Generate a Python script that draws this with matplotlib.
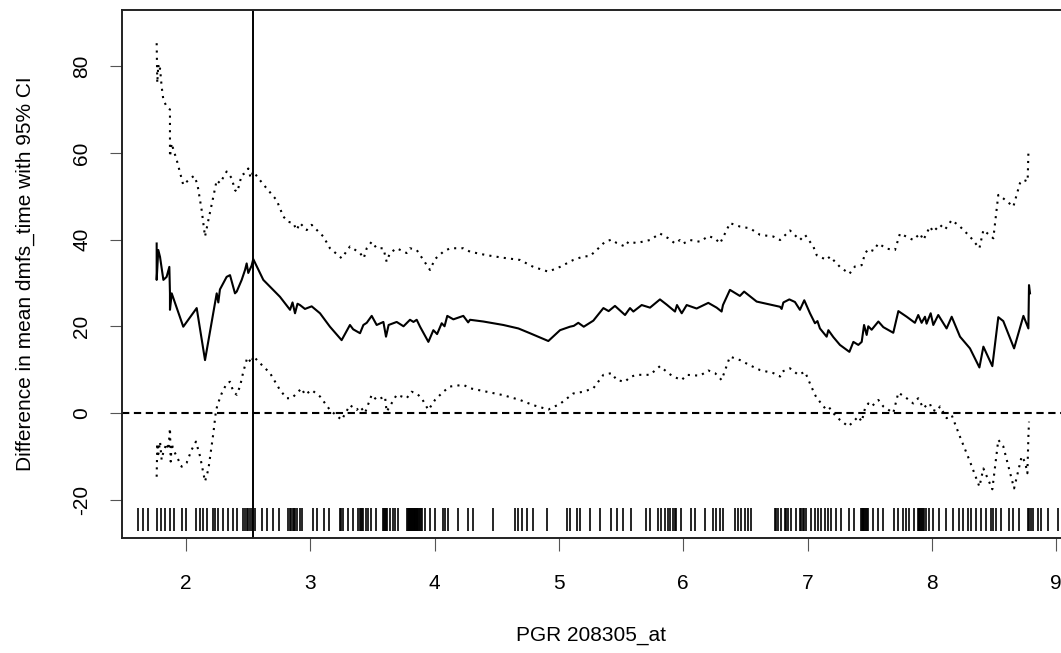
import matplotlib

matplotlib.use("Agg")
import matplotlib.pyplot as plt

# estimated difference (solid line)
est_x = [1.764, 1.764, 1.777, 1.791, 1.818, 1.844, 1.866, 1.871, 1.871, 1.885, 1.978,
         2.086, 2.153, 2.247, 2.260, 2.273, 2.327, 2.354, 2.394, 2.408, 2.448, 2.475,
         2.488, 2.501, 2.528, 2.541, 2.622, 2.756, 2.837, 2.857, 2.877, 2.897, 2.917,
         2.957, 3.011, 3.078, 3.158, 3.252, 3.319, 3.345, 3.400, 3.427, 3.454, 3.494,
         3.534, 3.588, 3.609, 3.630, 3.695, 3.750, 3.802, 3.830, 3.856, 3.883, 3.950,
         3.990, 4.020, 4.057, 4.080, 4.102, 4.151, 4.231, 4.270, 4.285, 4.392, 4.553,
         4.674, 4.767, 4.915, 5.009, 5.089, 5.120, 5.156, 5.200, 5.277, 5.358, 5.400,
         5.451, 5.532, 5.572, 5.599, 5.666, 5.733, 5.813, 5.867, 5.934, 5.950, 5.988,
         6.028, 6.108, 6.202, 6.269, 6.309, 6.320, 6.376, 6.456, 6.490, 6.591, 6.779,
         6.792, 6.806, 6.854, 6.899, 6.939, 6.974, 7.020, 7.060, 7.080, 7.100, 7.154,
         7.168, 7.208, 7.261, 7.337, 7.369, 7.409, 7.436, 7.455, 7.476, 7.489, 7.516,
         7.570, 7.610, 7.690, 7.731, 7.798, 7.864, 7.891, 7.918, 7.945, 7.958, 7.991,
         8.012, 8.052, 8.119, 8.160, 8.227, 8.307, 8.383, 8.415, 8.487, 8.535, 8.575,
         8.662, 8.737, 8.777, 8.782, 8.790]
est_y = [39.1, 30.7, 37.6, 36.0, 30.7, 31.4, 33.7, 27.6, 23.8, 27.6, 19.9,
         24.2, 12.2, 27.6, 25.5, 28.5, 31.4, 31.8, 27.6, 28.0, 30.7, 33.0,
         34.5, 32.3, 34.0, 35.5, 30.7, 26.8, 23.8, 25.5, 23.0, 25.2, 24.9,
         24.0, 24.6, 23.0, 19.9, 16.8, 20.3, 19.3, 18.4, 20.3, 20.8, 22.4,
         20.3, 21.0, 17.6, 20.3, 21.0, 20.0, 21.5, 21.0, 21.5, 19.9, 16.4,
         19.1, 18.2, 20.7, 20.0, 22.4, 21.6, 22.4, 20.9, 21.5, 21.1, 20.3,
         19.5, 18.4, 16.6, 19.1, 19.9, 20.1, 20.8, 19.9, 21.3, 24.2, 23.5,
         24.7, 22.6, 24.2, 23.4, 24.9, 24.3, 26.2, 25.0, 23.4, 24.9, 23.0,
         24.9, 24.1, 25.4, 24.3, 23.4, 24.9, 28.4, 27.0, 28.0, 25.7, 24.5,
         24.0, 25.5, 26.2, 25.6, 23.8, 26.0, 23.0, 20.7, 21.2, 19.5, 17.6,
         19.1, 17.5, 15.7, 14.1, 16.4, 15.7, 16.4, 20.3, 18.0, 20.0, 19.2,
         21.1, 19.8, 18.5, 23.5, 22.2, 20.8, 22.6, 20.8, 22.2, 20.6, 23.0,
         20.3, 22.6, 19.5, 22.2, 17.6, 14.9, 10.5, 15.3, 10.8, 22.1, 21.2,
         14.9, 22.4, 19.5, 29.5, 27.6]

# upper 95% limit (dotted)
up_x = [1.764, 1.769, 1.777, 1.785, 1.791, 1.804, 1.818, 1.844, 1.871, 1.871, 1.885,
        1.898, 1.925, 1.978, 2.019, 2.064, 2.091, 2.126, 2.153, 2.180, 2.220, 2.247,
        2.273, 2.327, 2.367, 2.394, 2.413, 2.448, 2.475, 2.501, 2.520, 2.541, 2.595,
        2.649, 2.729, 2.783, 2.823, 2.863, 2.890, 2.917, 2.971, 3.011, 3.105, 3.158,
        3.252, 3.319, 3.400, 3.430, 3.454, 3.494, 3.534, 3.588, 3.614, 3.641, 3.695,
        3.775, 3.802, 3.856, 3.910, 3.963, 4.003, 4.070, 4.124, 4.231, 4.285, 4.419,
        4.553, 4.687, 4.794, 4.915, 5.009, 5.116, 5.197, 5.250, 5.304, 5.371, 5.424,
        5.465, 5.532, 5.559, 5.625, 5.733, 5.813, 5.880, 5.934, 5.974, 6.001, 6.055,
        6.135, 6.202, 6.256, 6.296, 6.350, 6.376, 6.457, 6.537, 6.618, 6.725, 6.779,
        6.859, 6.939, 6.980, 7.047, 7.074, 7.154, 7.181, 7.261, 7.337, 7.382, 7.436,
        7.463, 7.489, 7.530, 7.570, 7.637, 7.704, 7.744, 7.851, 7.905, 7.932, 7.985,
        8.012, 8.066, 8.106, 8.160, 8.227, 8.307, 8.383, 8.415, 8.495, 8.535, 8.575,
        8.656, 8.709, 8.736, 8.771, 8.777]
up_y = [85.3, 76.1, 80.3, 78.9, 79.5, 75.3, 72.2, 70.7, 70.0, 59.1, 62.2,
        60.8, 58.4, 52.6, 53.7, 54.7, 52.9, 46.8, 40.7, 44.5, 49.9, 53.7,
        53.0, 55.7, 54.2, 51.4, 51.0, 54.9, 55.3, 56.4, 54.2, 55.7, 53.7,
        51.8, 49.1, 45.3, 44.1, 43.8, 42.2, 43.8, 42.2, 43.4, 40.7, 38.0,
        35.7, 38.4, 36.9, 35.7, 38.0, 39.5, 38.0, 38.0, 34.9, 36.9, 38.0,
        36.9, 38.0, 37.6, 35.3, 33.0, 35.5, 37.2, 38.0, 38.0, 37.2, 36.4,
        35.8, 35.3, 33.7, 32.6, 33.7, 35.3, 36.1, 36.2, 37.6, 39.5, 40.0,
        39.2, 38.4, 39.5, 39.2, 39.9, 41.4, 40.3, 39.1, 39.9, 39.1, 39.9,
        39.5, 40.8, 40.3, 39.1, 42.2, 43.8, 43.0, 42.6, 41.1, 40.7, 39.9,
        42.1, 39.9, 41.1, 38.4, 36.4, 35.3, 36.1, 33.7, 32.1, 33.8, 34.1,
        36.8, 37.8, 37.4, 39.1, 37.9, 37.6, 41.4, 39.9, 41.4, 39.9, 43.0,
        41.8, 43.4, 42.3, 44.5, 43.0, 40.7, 38.0, 42.2, 40.3, 50.3, 49.5,
        47.6, 53.0, 53.8, 53.4, 59.9]

# lower 95% limit (dotted)
lo_x = [1.764, 1.769, 1.777, 1.791, 1.804, 1.818, 1.844, 1.858, 1.871, 1.877, 1.885,
        1.898, 1.925, 1.965, 2.005, 2.045, 2.080, 2.113, 2.153, 2.180, 2.220, 2.239,
        2.252, 2.287, 2.327, 2.354, 2.381, 2.408, 2.435, 2.461, 2.493, 2.528, 2.541,
        2.595, 2.676, 2.756, 2.810, 2.850, 2.890, 2.930, 2.957, 3.011, 3.078, 3.158,
        3.252, 3.319, 3.373, 3.400, 3.440, 3.494, 3.534, 3.601, 3.614, 3.695, 3.775,
        3.815, 3.856, 3.896, 3.950, 4.003, 4.070, 4.124, 4.231, 4.285, 4.419, 4.553,
        4.687, 4.794, 4.915, 5.009, 5.116, 5.197, 5.277, 5.358, 5.424, 5.465, 5.532,
        5.572, 5.625, 5.733, 5.813, 5.880, 5.920, 5.988, 6.028, 6.135, 6.202, 6.256,
        6.309, 6.376, 6.457, 6.537, 6.618, 6.725, 6.779, 6.792, 6.859, 6.926, 6.980,
        7.020, 7.060, 7.074, 7.141, 7.168, 7.221, 7.261, 7.328, 7.369, 7.409, 7.436,
        7.463, 7.489, 7.516, 7.570, 7.610, 7.690, 7.731, 7.798, 7.851, 7.891, 7.932,
        7.958, 7.985, 7.999, 8.039, 8.066, 8.119, 8.160, 8.227, 8.307, 8.383, 8.415,
        8.487, 8.535, 8.575, 8.662, 8.723, 8.750, 8.769, 8.777, 8.782]
lo_y = [-14.7, -7.0, -9.5, -6.6, -10.8, -9.0, -7.0, -8.5, -3.5, -11.2, -7.0,
        -8.5, -10.0, -12.4, -11.5, -8.5, -6.6, -10.0, -15.8, -13.0, -4.7, 0.0,
        1.8, 4.5, 6.8, 7.2, 4.9, 4.2, 6.2, 9.5, 12.8, 11.5, 13.1,
        11.5, 9.2, 5.3, 3.4, 3.4, 4.5, 5.7, 4.2, 5.3, 3.8, 0.7,
        -1.6, 1.8, 0.7, 1.5, 0.0, 4.2, 3.0, 3.8, 0.3, 4.2, 3.4,
        4.9, 4.5, 3.4, 0.7, 3.0, 4.9, 6.1, 6.5, 5.7, 4.9, 4.1,
        3.0, 1.8, 0.8, 2.1, 4.5, 4.9, 5.7, 8.8, 9.2, 7.6, 7.2,
        8.3, 8.8, 8.8, 10.8, 9.2, 8.4, 7.6, 8.8, 8.6, 9.8, 9.2,
        7.6, 13.0, 12.2, 11.0, 9.9, 9.2, 8.4, 9.5, 10.3, 8.8, 9.5,
        6.8, 4.2, 3.5, 1.1, 1.5, -0.5, -1.6, -3.1, -2.0, -0.8, -2.0,
        1.1, 2.2, 1.5, 3.0, 1.5, 0.0, 4.7, 3.4, 2.2, 3.4, 1.1,
        1.8, 2.2, 0.8, 0.4, 1.5, -1.2, -0.5, -5.5, -11.2, -17.0, -12.8,
        -17.6, -6.2, -7.7, -17.4, -10.0, -11.3, -13.9, -5.5, -2.0]

# observed values (rug)
rug_x = [1.617, 1.657, 1.697, 1.764, 1.796, 1.831, 1.871, 1.906, 1.965, 1.997,
         2.080, 2.113, 2.139, 2.172, 2.215, 2.233, 2.260, 2.295, 2.341, 2.381,
         2.413, 2.461, 2.475, 2.488, 2.501, 2.515, 2.528, 2.555, 2.609, 2.649,
         2.703, 2.751, 2.818, 2.837, 2.848, 2.858, 2.868, 2.877, 2.896, 2.917,
         2.936, 3.019, 3.051, 3.110, 3.153, 3.239, 3.250, 3.260, 3.306, 3.346,
         3.386, 3.396, 3.405, 3.416, 3.427, 3.448, 3.467, 3.486, 3.529, 3.582,
         3.592, 3.601, 3.610, 3.620, 3.641, 3.663, 3.681, 3.708, 3.781, 3.786,
         3.791, 3.796, 3.801, 3.806, 3.811, 3.816, 3.821, 3.826, 3.831, 3.836,
         3.841, 3.846, 3.851, 3.856, 3.861, 3.866, 3.871, 3.881, 3.888, 3.896,
         3.923, 3.963, 4.003, 4.070, 4.084, 4.110, 4.191, 4.271, 4.312, 4.472,
         4.647, 4.674, 4.700, 4.741, 4.794, 4.902, 5.062, 5.089, 5.143, 5.170,
         5.250, 5.328, 5.422, 5.470, 5.516, 5.583, 5.703, 5.730, 5.797, 5.824,
         5.851, 5.878, 5.891, 5.918, 5.930, 5.945, 5.985, 6.065, 6.092, 6.173,
         6.240, 6.267, 6.293, 6.320, 6.414, 6.441, 6.468, 6.495, 6.521, 6.548,
         6.736, 6.750, 6.763, 6.789, 6.816, 6.830, 6.843, 6.870, 6.910, 6.937,
         6.950, 6.964, 6.975, 6.991, 7.031, 7.058, 7.085, 7.111, 7.138, 7.165,
         7.192, 7.232, 7.270, 7.337, 7.377, 7.430, 7.437, 7.444, 7.450, 7.457,
         7.464, 7.471, 7.478, 7.484, 7.524, 7.564, 7.605, 7.699, 7.725, 7.766,
         7.792, 7.819, 7.859, 7.886, 7.893, 7.900, 7.906, 7.913, 7.920, 7.927,
         7.940, 7.953, 7.980, 8.007, 8.061, 8.115, 8.168, 8.222, 8.248, 8.289,
         8.315, 8.356, 8.396, 8.436, 8.476, 8.490, 8.516, 8.557, 8.624, 8.651,
         8.704, 8.771, 8.785, 8.798, 8.811, 8.852, 8.879, 8.932, 9.012]

CUTOFF = 2.54
X_TICKS = [2, 3, 4, 5, 6, 7, 8, 9]
Y_TICKS = [-20, 0, 20, 40, 60, 80]

plt.rcParams["font.family"] = ["Liberation Sans", "DejaVu Sans"]
plt.rcParams["font.size"] = 15

fig = plt.figure(figsize=(10.61, 6.53), dpi=100)
ax = fig.add_axes([122 / 1061, 115 / 653, 1 - 122 / 1061, 528 / 653])

ax.plot(est_x, est_y, color="black", lw=1.5, solid_joinstyle="round")
ax.plot(up_x, up_y, color="black", lw=1.5, linestyle=(0, (1, 2.5)))
ax.plot(lo_x, lo_y, color="black", lw=1.5, linestyle=(0, (1, 2.5)))
ax.axhline(0, color="black", lw=1.5, linestyle=(0, (3.5, 2.2)))
ax.axvline(CUTOFF, color="black", lw=1.4)
ax.vlines(rug_x, -21.9, -27.2, color="black", lw=1.2)

ax.set_xlim(1.4851, 9.0394)
ax.set_ylim(-28.84, 92.96)
ax.set_xticks(X_TICKS)
ax.set_yticks(Y_TICKS)
ax.set_yticklabels([str(v) for v in Y_TICKS], rotation=90, va="center")
ax.tick_params(axis="both", length=9, width=0.8, color="#555555", labelsize=15)
ax.tick_params(axis="x", pad=17)
ax.tick_params(axis="y", pad=13)

for side in ["left", "top", "bottom"]:
    ax.spines[side].set_linewidth(1.4)
    ax.spines[side].set_color("#222222")
ax.spines["right"].set_visible(False)

ax.set_xlabel("PGR 208305_at", labelpad=24)
ax.set_ylabel("Difference in mean dmfs_time with 95% CI", labelpad=27)

fig.savefig("out.png", dpi=100)
